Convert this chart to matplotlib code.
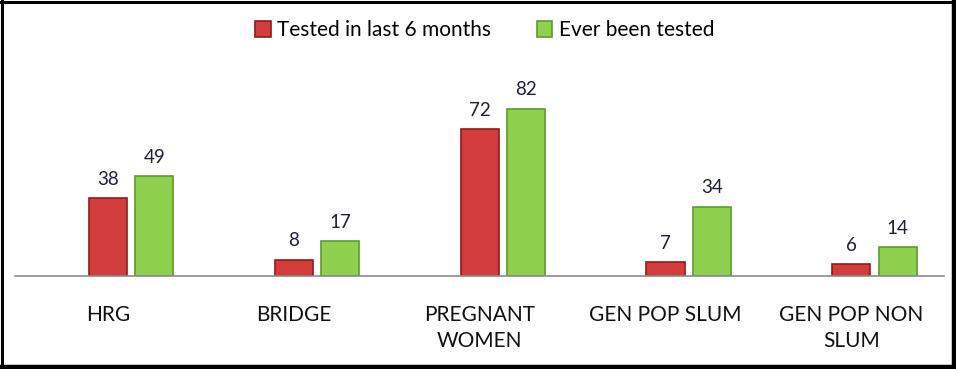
import numpy as np
import matplotlib.pyplot as plt
from matplotlib.lines import Line2D

# data
categories = ["HRG", "BRIDGE", "PREGNANT\nWOMEN", "GEN POP SLUM", "GEN POP NON\nSLUM"]
last_6_months = [38, 8, 72, 7, 6]
ever_tested = [49, 17, 82, 34, 14]

plt.rcParams['font.family'] = ['Lato', 'DejaVu Sans']

fig = plt.figure(figsize=(9.56, 3.69), dpi=100)
ax = fig.add_axes([0.0157, 0.252, 0.972, 0.553])

x = np.arange(len(categories))
w = 0.205
red = ax.bar(x, last_6_months, w, color="#d23c3a", edgecolor="#8e1c1c",
             linewidth=1.2, label="Tested in last 6 months")
green = ax.bar(x + 0.25, ever_tested, w, color="#8fd14f", edgecolor="#5f9a2c",
               linewidth=1.2, label="Ever been tested")

for bars, vals in [(red, last_6_months), (green, ever_tested)]:
    for b, v in zip(bars, vals):
        ax.text(b.get_x() + b.get_width() / 2, v + 5, str(v), ha="center",
                va="bottom", fontsize=13.5, color="#1f1f3a")

ax.set_xlim(-0.5, 4.5)
ax.set_ylim(0, 100)
ax.set_xticks(x)
ax.set_xticklabels(categories, fontsize=15, color="#111111", linespacing=1.35)
ax.tick_params(axis="x", length=0, pad=21)
ax.set_yticks([])
for s in ["top", "left", "right"]:
    ax.spines[s].set_visible(False)
ax.spines["bottom"].set_color("#8c8c8c")
ax.spines["bottom"].set_linewidth(1.2)

ax.legend(loc="center", bbox_to_anchor=(0.507, 0.918), bbox_transform=fig.transFigure,
          ncol=2, frameon=False, fontsize=15, handlelength=0.75, handleheight=0.75,
          handletextpad=0.3, columnspacing=2.2)

# black frame, a bit heavier on right and bottom
W, H = 956, 369
frame = [((1.5, 1.5), (0, H), 2.2), ((0, W), (H - 1.5, H - 1.5), 2.2),
         ((W - 2.5, W - 2.5), (0, H), 3.2), ((0, W), (2.5, 2.5), 3.2)]
for xs, ys, lw in frame:
    fig.add_artist(Line2D([xs[0] / W, xs[1] / W], [ys[0] / H, ys[1] / H],
                          transform=fig.transFigure, color="black", linewidth=lw))

fig.savefig("out.png", dpi=100)
